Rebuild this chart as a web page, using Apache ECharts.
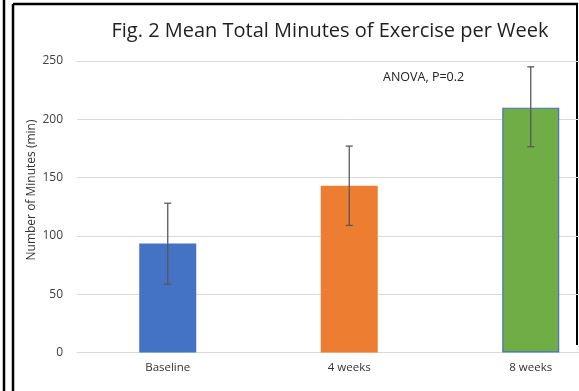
<!DOCTYPE html>
<html>
<head>
<meta charset="utf-8">
<script src="https://cdn.jsdelivr.net/npm/echarts@6/dist/echarts.min.js"></script>
<style>
  html, body { margin: 0; padding: 0; background: #fff; overflow: hidden; width: 579px; height: 391px; }
  #chart { width: 640px; height: 391px; }
</style>
</head>
<body>
<div id="chart"></div>
<script>
// Mean weekly exercise minutes at each time point, with error bar bounds
const categories = ['Baseline', '4 weeks', '8 weeks'];
const meanMinutes = [93.5, 143, 210];
const errorLow = [58.5, 109, 176.5];
const errorHigh = [128, 177, 245];
const barColors = ['#4472c4', '#ed7d31', '#70ad47'];
const yTicks = [0, 50, 100, 150, 200, 250];

const chart = echarts.init(document.getElementById('chart'));

const errorData = categories.map((c, i) => [i, errorLow[i], errorHigh[i]]);

chart.setOption({
  animation: false,
  backgroundColor: '#ffffff',
  grid: { left: 77, top: 61, width: 544.5, height: 291.5 },
  xAxis: {
    type: 'category',
    data: categories,
    axisLine: { lineStyle: { color: '#d9d9d9', width: 1 } },
    axisTick: { show: false },
    axisLabel: { fontFamily: 'Open Sans', fontSize: 11.5, color: '#333333', margin: 9 }
  },
  yAxis: {
    type: 'value',
    min: yTicks[0],
    max: yTicks[yTicks.length - 1],
    interval: 50,
    axisLine: { show: false },
    axisTick: { show: false },
    splitLine: { lineStyle: { color: '#d9d9d9', width: 1 } },
    axisLabel: { fontFamily: 'Open Sans', fontSize: 12, color: '#404040', margin: 14 }
  },
  series: [
    {
      type: 'bar',
      barWidth: 57,
      data: meanMinutes.map((v, i) => ({
        value: v,
        itemStyle: {
          color: barColors[i],
          borderColor: i === 2 ? '#4472c4' : barColors[i],
          borderWidth: i === 2 ? 1.2 : 0
        }
      }))
    },
    {
      type: 'custom',
      data: errorData,
      z: 10,
      renderItem: function (params, api) {
        const x = api.value(0);
        const lo = api.coord([x, api.value(1)]);
        const hi = api.coord([x, api.value(2)]);
        const cap = 3.5;
        const style = { stroke: '#595959', lineWidth: 1.3 };
        return {
          type: 'group',
          children: [
            { type: 'line', shape: { x1: hi[0], y1: hi[1], x2: lo[0], y2: lo[1] }, style: style },
            { type: 'line', shape: { x1: hi[0] - cap, y1: hi[1], x2: hi[0] + cap, y2: hi[1] }, style: style },
            { type: 'line', shape: { x1: lo[0] - cap, y1: lo[1], x2: lo[0] + cap, y2: lo[1] }, style: style }
          ]
        };
      }
    }
  ],
  graphic: [
    {
      type: 'text',
      x: 330, y: 31,
      style: {
        text: 'Fig. 2 Mean Total Minutes of Exercise per Week',
        fontFamily: 'Open Sans', fontSize: 20, fill: '#1f1f1f',
        align: 'center', verticalAlign: 'middle'
      }
    },
    {
      type: 'text',
      x: 32, y: 190,
      rotation: Math.PI / 2,
      style: {
        text: 'Number of Minutes (min)',
        fontFamily: 'Open Sans', fontSize: 12, fill: '#333333',
        align: 'center', verticalAlign: 'middle'
      }
    },
    {
      type: 'text',
      x: 383, y: 77,
      style: {
        text: 'ANOVA, P=0.2',
        fontFamily: 'Open Sans', fontSize: 12.5, fill: '#222222',
        align: 'left', verticalAlign: 'middle'
      }
    },
    // page frame lines
    { type: 'line', shape: { x1: 4, y1: 0, x2: 4, y2: 391 }, style: { stroke: '#000', lineWidth: 2.5 } },
    { type: 'line', shape: { x1: 13, y1: 4, x2: 13, y2: 391 }, style: { stroke: '#000', lineWidth: 2.5 } },
    { type: 'line', shape: { x1: 13, y1: 4, x2: 578, y2: 4 }, style: { stroke: '#000', lineWidth: 2.5 } },
    { type: 'line', shape: { x1: 577, y1: 3, x2: 577, y2: 345 }, style: { stroke: '#000', lineWidth: 2 } }
  ]
});
</script>
</body>
</html>
